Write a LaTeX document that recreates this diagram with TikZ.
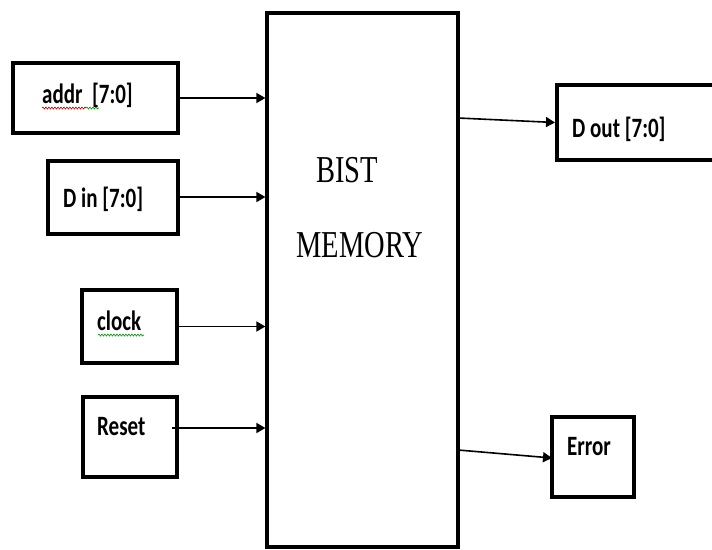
\documentclass[tikz,border=0pt]{standalone}
\usepackage{fontspec}
\setmainfont{Liberation Serif}
\newfontfamily\lblfont{Carlito}
\usetikzlibrary{arrows.meta,decorations.pathmorphing}
\tikzset{
  sbox/.style={draw, line width=4pt, inner sep=0pt},
  mbox/.style={draw, line width=3.2pt, inner sep=0pt},
  lbl/.style={anchor=base west, inner sep=0pt, font=\lblfont\bfseries\fontsize{28}{28}\selectfont},
  big/.style={anchor=base, inner sep=0pt, font=\fontsize{38}{38}\selectfont},
  arr/.style={line width=1.6pt, -{Triangle[length=9pt,width=10pt]}},
  squig/.style={line width=0.6pt, decorate, decoration={snake, amplitude=1pt, segment length=3pt}}
}
\begin{document}
\begin{tikzpicture}[x=1pt,y=-1pt]
\useasboundingbox (0,0) rectangle (712,549);
\clip (0,0) rectangle (712,549);
% main block
\node[mbox, minimum width=191pt, minimum height=534pt] (mem) at (362.5,280) {};
\node[big] (t1) at (347,182) {\scalebox{0.75}[1]{BIST}};
\node[big] (t2) at (360,257) {\scalebox{0.75}[1]{MEMORY}};
% input boxes
\node[sbox, minimum width=165pt, minimum height=70pt] (addr) at (95.5,98) {};
\node[sbox, minimum width=130pt, minimum height=73pt] (din) at (113,197) {};
\node[sbox, minimum width=95pt, minimum height=73pt] (clk) at (129.5,326.5) {};
\node[sbox, minimum width=94pt, minimum height=80pt] (rst) at (130,437) {};
% output boxes
\node[sbox, minimum width=175pt, minimum height=75pt] (dout) at (644.5,122.5) {};
\node[sbox, minimum width=82pt, minimum height=80pt] (err) at (593,457) {};
% labels
\node[lbl] (la) at (42,103) {\scalebox{0.75}[1]{addr\ \ [7:0]}};
\node[lbl] (ld) at (63,207) {\scalebox{0.75}[1]{D in [7:0]}};
\node[lbl] (lc) at (97,330) {\scalebox{0.75}[1]{clock}};
\node[lbl] (lr) at (97,435) {\scalebox{0.75}[1]{Reset}};
\node[lbl] (lo) at (572,137) {\scalebox{0.75}[1]{D out [7:0]}};
\node[lbl] (le) at (567,455) {\scalebox{0.75}[1]{Error}};
% spell-check squiggles
\coordinate (sq1) at (42,108);
\coordinate (sq2) at (86,108);
\coordinate (sq3) at (99,108);
\coordinate (sq4) at (98,335);
\coordinate (sq5) at (144,335);
\draw[squig, red!70!black] (sq1) -- (sq2);
\draw[squig, green!55!black] (sq2) -- (sq3);
\draw[squig, green!55!black] (sq4) -- (sq5);
% connectors
\draw[arr] (addr.east) -- (addr.east -| mem.west);
\draw[arr] (din.east) -- (din.east -| mem.west);
\draw[arr] (clk.east) -- (clk.east -| mem.west);
\coordinate (rs) at (172,428);
\draw[arr] (rs) -- (rs -| mem.west);
\coordinate (o1) at (458,118);
\coordinate (o2) at (458,450);
\coordinate (e2) at (552,458);
\draw[arr] (o1) -- (dout.west);
\draw[arr] (o2) -- (e2);
\end{tikzpicture}
\end{document}
